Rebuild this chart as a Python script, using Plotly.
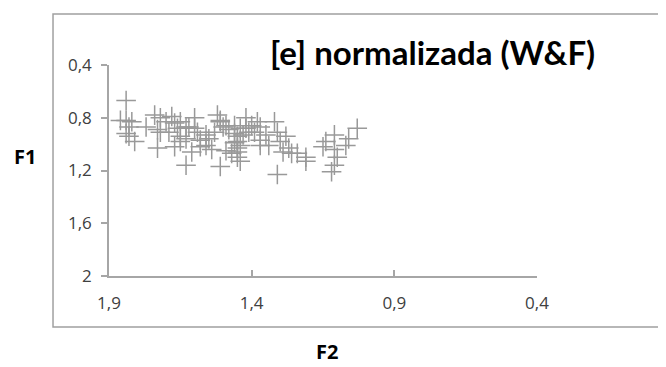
import plotly.graph_objects as go

# F2 (x) and F1 (y) values
f2 = [1.84, 1.86, 1.84, 1.82, 1.83, 1.84, 1.83, 1.81, 1.77, 1.74,
      1.72, 1.73, 1.73, 1.70, 1.68, 1.67, 1.69, 1.66, 1.65, 1.63,
      1.67, 1.65, 1.63, 1.62, 1.60, 1.60, 1.59, 1.61, 1.63, 1.58,
      1.56, 1.58, 1.55, 1.54, 1.53, 1.52, 1.51, 1.50, 1.51, 1.49,
      1.48, 1.46, 1.46, 1.45, 1.45, 1.47, 1.45, 1.44, 1.43, 1.42,
      1.42, 1.44, 1.40, 1.39, 1.38, 1.37, 1.37, 1.35, 1.37, 1.34,
      1.32, 1.31, 1.30, 1.29, 1.28, 1.27, 1.26, 1.24, 1.21, 1.21,
      1.31, 1.15, 1.14, 1.11, 1.11, 1.10, 1.11, 1.12, 1.07, 1.06,
      1.03, 1.45, 1.45, 1.44, 1.51, 1.41, 1.46, 1.56, 1.65, 1.72,
      1.49]
f1 = [0.67, 0.82, 0.82, 0.83, 0.87, 0.92, 0.94, 0.98, 0.87, 0.78,
      0.80, 0.89, 1.03, 0.83, 0.79, 0.84, 0.91, 0.88, 0.83, 0.87,
      1.02, 0.98, 0.96, 0.87, 0.80, 0.88, 0.91, 1.06, 1.16, 0.97,
      1.01, 1.02, 0.96, 1.04, 0.91, 0.78, 0.83, 0.87, 1.17, 0.86,
      0.89, 0.86, 0.92, 0.98, 1.03, 1.07, 1.10, 0.88, 0.93, 0.80,
      0.88, 1.13, 0.86, 0.91, 0.83, 0.87, 0.97, 0.93, 1.01, 1.01,
      0.83, 0.91, 0.98, 1.06, 0.94, 1.03, 1.07, 1.07, 1.10, 1.13,
      1.23, 1.02, 0.98, 0.93, 1.04, 1.10, 1.16, 1.21, 1.01, 0.96,
      0.88, 0.94, 1.06, 1.01, 0.82, 0.91, 0.99, 0.93, 0.94, 0.91,
      1.05]

x_ticks = [1.9, 1.4, 0.9, 0.4]
y_ticks = [0.4, 0.8, 1.2, 1.6, 2.0]
title_text = "[e] normalizada (W&F)"
x_title = "F2"
y_title = "F1"

axis_col = "#a6a6a6"
tick_font = dict(family="Open Sans", size=17, color="#404040")

fig = go.Figure()
fig.add_trace(go.Scatter(
    x=f2, y=f1, mode="markers",
    marker=dict(symbol="cross-thin", size=14,
                line=dict(width=1.5, color="#999999")),
    showlegend=False, hoverinfo="skip"))

fig.update_layout(
    width=666, height=367,
    margin=dict(l=101, r=137, t=57, b=99),
    paper_bgcolor="white", plot_bgcolor="white",
    separators=",.",
    xaxis=dict(range=[1.9, 0.4], tickvals=x_ticks, showgrid=False,
               zeroline=False, showline=True, linecolor=axis_col, linewidth=1.5,
               ticks="inside", ticklen=6, tickcolor=axis_col, tickwidth=1.5,
               tickfont=tick_font, ticklabelstandoff=11),
    yaxis=dict(range=[2.0, 0.4], tickvals=y_ticks, showgrid=False,
               zeroline=False, showline=True, linecolor=axis_col, linewidth=1.5,
               ticks="outside", ticklen=6, tickcolor=axis_col, tickwidth=1.5,
               tickfont=tick_font, ticklabelstandoff=6),
    shapes=[dict(type="rect", xref="paper", yref="paper",
                 x0=-0.1308, x1=1.4, y0=-0.2417, y1=1.2417,
                 line=dict(color="#a0a0a0", width=1.5), layer="below")],
    annotations=[
        dict(text=title_text, xref="paper", yref="paper", x=0.757, y=1.062,
             xanchor="center", yanchor="middle", showarrow=False,
             font=dict(family="Lato", size=33, color="#000000", weight="bold")),
        dict(text=y_title, xref="paper", yref="paper", x=-0.197, y=0.564,
             xanchor="center", yanchor="middle", showarrow=False,
             font=dict(family="Open Sans", size=20, color="#000000", weight="bold")),
        dict(text=x_title, xref="paper", yref="paper", x=0.509, y=-0.36,
             xanchor="center", yanchor="middle", showarrow=False,
             font=dict(family="Open Sans", size=20, color="#000000", weight="bold")),
    ],
)

fig.write_html("out.html")
